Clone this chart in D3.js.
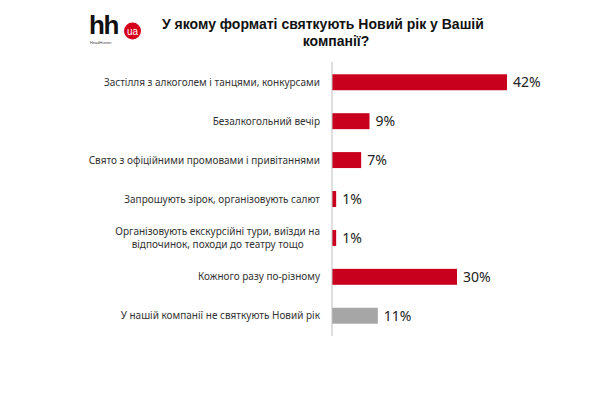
<!DOCTYPE html>
<html>
<head>
<meta charset="utf-8">
<script src="https://cdn.jsdelivr.net/npm/d3@7"></script>
<style>
  body { margin: 0; background: #fff; }
  svg { display: block; }
</style>
</head>
<body>
<div id="chart"></div>
<script>
WIDTH = 600;
HEIGHT = 405;

// data
var categories = [
  ["Застілля з алкоголем і танцями, конкурсами"],
  ["Безалкогольний вечір"],
  ["Свято з офіційними промовами і привітаннями"],
  ["Запрошують зірок, організовують салют"],
  ["Організовують екскурсійні тури, виїзди на", "відпочинок, походи до театру тощо"],
  ["Кожного разу по-різному"],
  ["У нашій компанії не святкують Новий рік"]
];
var values = [42, 9, 7, 1, 1, 30, 11];
var barColors = ["#c8001e", "#c8001e", "#c8001e", "#c8001e", "#c8001e", "#c8001e", "#a6a6a6"];
var titleLines = ["У якому форматі святкують Новий рік у Вашій", "компанії?"];

var svg = d3
  .select("#chart")
  .append("svg")
  .attr("width", WIDTH)
  .attr("height", HEIGHT);

var axisX = 332;

const xScale = d3.scaleLinear().domain([0, 42]).range([axisX, 507]);
const yScale = d3
  .scaleBand()
  .domain(d3.range(values.length))
  .range([63, 335])
  .paddingInner(0.59)
  .paddingOuter(0.29);

// logo
var logo = svg.append("g");
logo.append("text")
  .attr("x", 89)
  .attr("y", 34)
  .style("font-family", "Liberation Sans, Arial, sans-serif")
  .style("font-weight", "bold")
  .style("font-size", "26px")
  .style("letter-spacing", "-1.5px")
  .attr("fill", "#111")
  .text("hh");
logo.append("circle")
  .attr("cx", 132.5)
  .attr("cy", 31)
  .attr("r", 8.5)
  .attr("fill", "#d6001c");
logo.append("text")
  .attr("x", 132.5)
  .attr("y", 34.5)
  .attr("text-anchor", "middle")
  .style("font-family", "Liberation Sans, Arial, sans-serif")
  .style("font-size", "10px")
  .attr("fill", "#fff")
  .text("ua");
logo.append("text")
  .attr("x", 90)
  .attr("y", 44)
  .style("font-family", "Liberation Sans, Arial, sans-serif")
  .style("font-size", "4px")
  .attr("fill", "#444")
  .text("HeadHunter");

// title
var titleFont = "'Liberation Sans', Arial, sans-serif";
svg.append("text")
  .attr("x", 162)
  .attr("y", 29)
  .style("font-family", titleFont)
  .style("font-weight", "bold")
  .style("font-size", "14px")
  .attr("fill", "#111")
  .text(titleLines[0]);
svg.append("text")
  .attr("x", 336)
  .attr("y", 46)
  .attr("text-anchor", "middle")
  .style("font-family", titleFont)
  .style("font-weight", "bold")
  .style("font-size", "14px")
  .attr("fill", "#111")
  .text(titleLines[1]);

// bars
svg.append("g")
  .selectAll("rect")
  .data(values)
  .enter()
  .append("rect")
  .attr("x", xScale(0))
  .attr("y", (d, i) => yScale(i))
  .attr("width", d => xScale(d) - xScale(0))
  .attr("height", yScale.bandwidth())
  .attr("fill", (d, i) => barColors[i]);

// axis line
svg.append("line")
  .attr("x1", axisX)
  .attr("x2", axisX)
  .attr("y1", 62)
  .attr("y2", 336)
  .attr("stroke", "#bfbfbf")
  .attr("stroke-width", 1);

// value labels
svg.append("g")
  .selectAll("text")
  .data(values)
  .enter()
  .append("text")
  .attr("x", d => xScale(d) + 6)
  .attr("y", (d, i) => yScale(i) + yScale.bandwidth() / 2)
  .attr("dy", "0.36em")
  .style("font-family", "Noto Sans, sans-serif")
  .style("font-size", "14px")
  .attr("fill", "#222")
  .text(d => d + "%");

// category labels, multi-line ones centred in a right-aligned block
var labelG = svg.append("g");
categories.forEach(function(lines, i) {
  var cy = yScale(i) + yScale.bandwidth() / 2;
  var lineH = 12.5;
  var t = labelG.append("text")
    .style("font-family", "Noto Sans, sans-serif")
    .style("font-size", "10px")
    .attr("fill", "#333")
    .attr("text-anchor", "middle");
  lines.forEach(function(s, j) {
    t.append("tspan")
      .attr("y", cy + (j - (lines.length - 1) / 2) * lineH)
      .attr("dy", "0.35em")
      .text(s);
  });
  var maxW = d3.max(t.selectAll("tspan").nodes(), n => n.getComputedTextLength());
  t.selectAll("tspan").attr("x", 320 - maxW / 2);
});
</script>
</body>
</html>
